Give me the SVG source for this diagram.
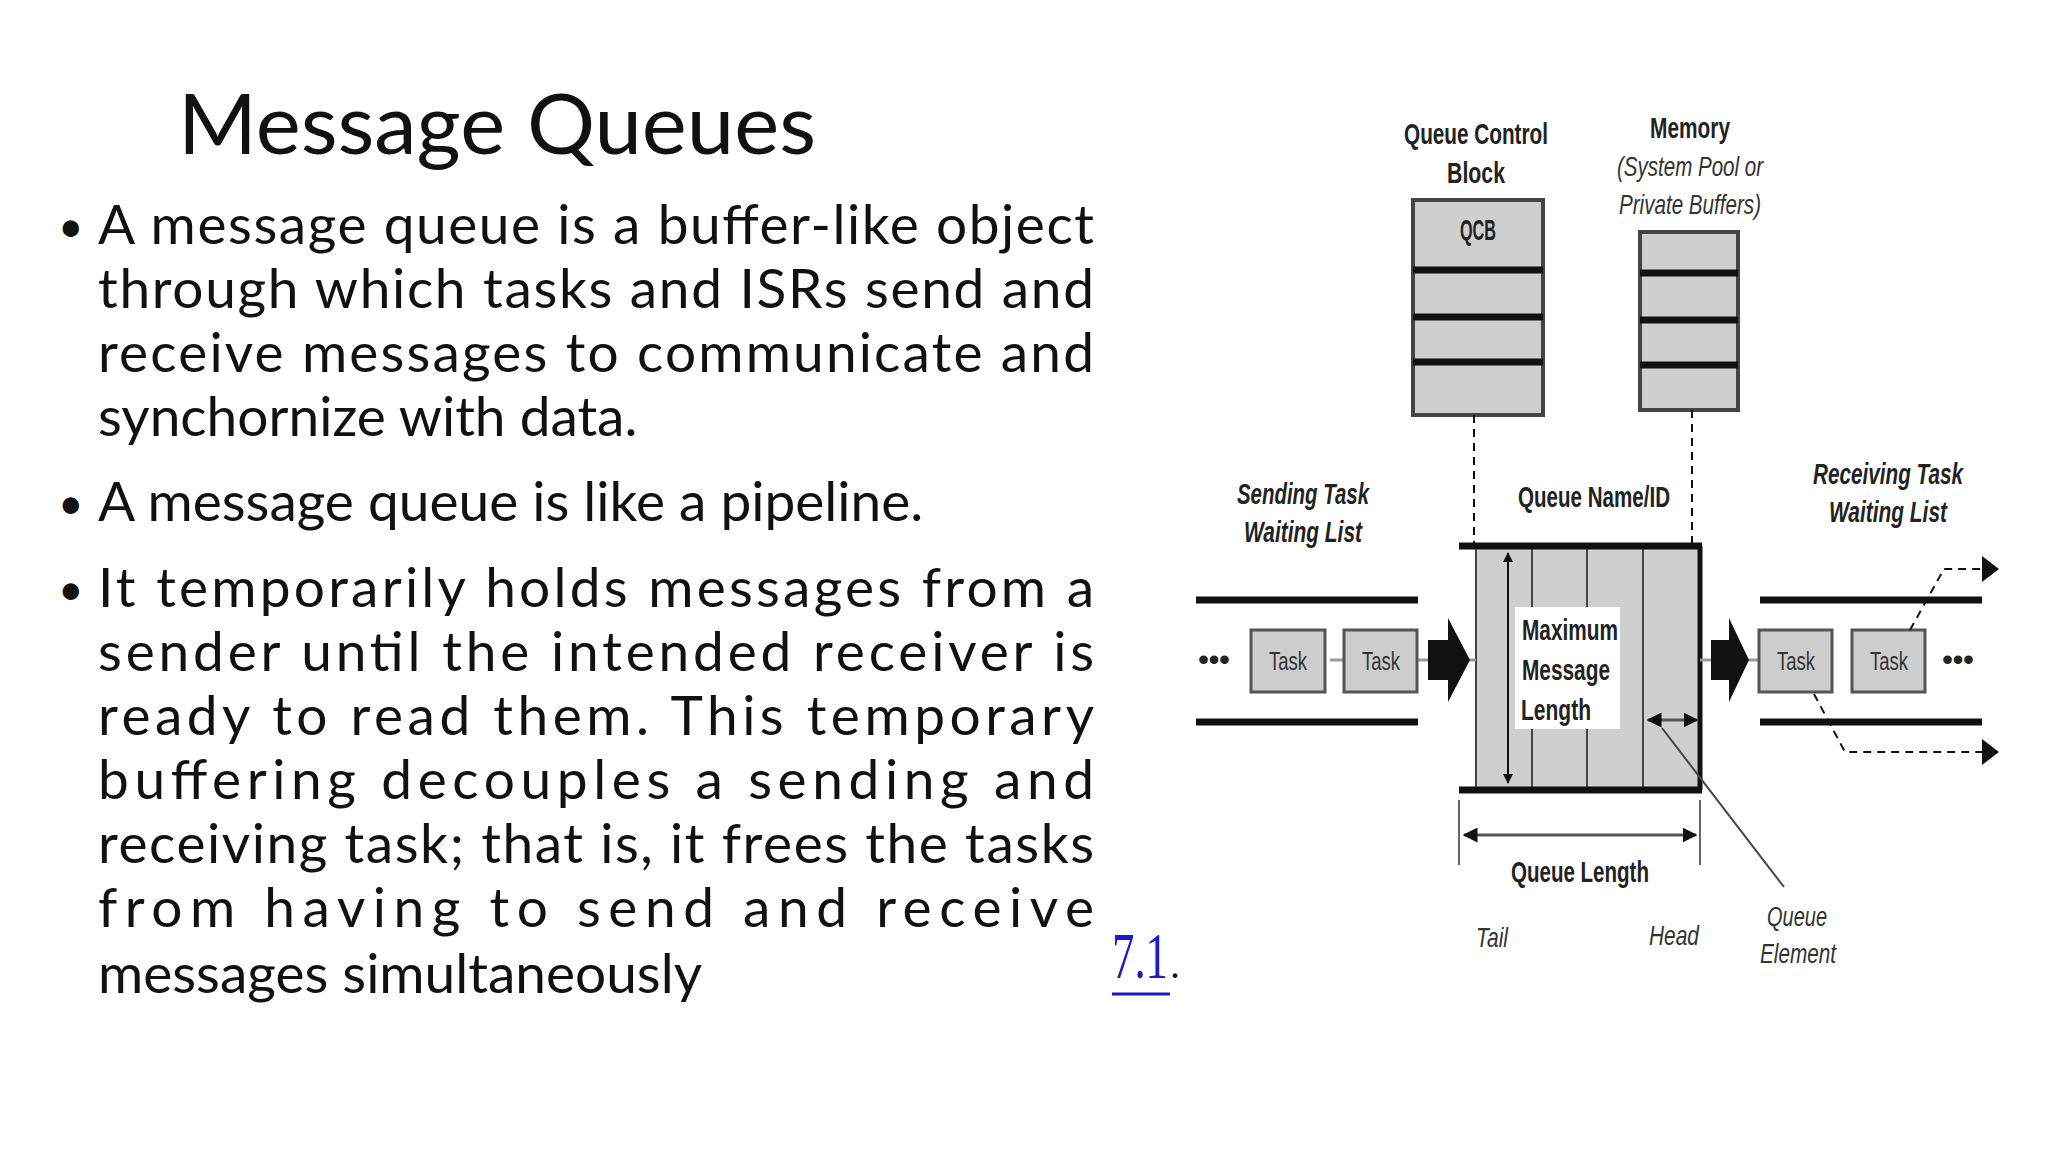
<svg xmlns="http://www.w3.org/2000/svg" width="2048" height="1152" viewBox="0 0 2048 1152">
<defs>
<style>
.b{font-family:Lato,"Open Sans",sans-serif;font-size:55px;fill:#111}
.d{font-family:"Liberation Sans",Arial,sans-serif;font-weight:bold;font-size:30px;fill:#222;text-anchor:middle}
.n{font-family:"Liberation Sans",Arial,sans-serif;font-style:italic;font-size:28px;fill:#333;text-anchor:middle}
.cell{fill:#cfcfcf;stroke:#444;stroke-width:4}
.task{fill:#cdcdcd;stroke:#555;stroke-width:3}
.tt{font-family:"Liberation Sans",Arial,sans-serif;font-size:26px;fill:#333;text-anchor:middle}
.thick{stroke:#111;stroke-width:7}
.dash{stroke:#111;stroke-width:2;stroke-dasharray:8 6;fill:none}
</style>
<marker id="ah" viewBox="0 0 10 10" refX="9" refY="5" markerWidth="5" markerHeight="5" orient="auto-start-reverse"><path d="M0,0L10,5L0,10z" fill="#111"/></marker>
</defs>
<rect width="2048" height="1152" fill="#fff"/>
<text x="178" y="154" font-family="Lato,'Open Sans',sans-serif" font-size="84" fill="#111" textLength="638" lengthAdjust="spacingAndGlyphs">Message Queues</text>
<g class="b">
<text x="58" y="242" font-size="44">•</text>
<text x="98" y="244" textLength="996" lengthAdjust="spacing">A message queue is a buffer-like object</text>
<text x="98" y="308" textLength="996" lengthAdjust="spacing">through which tasks and ISRs send and</text>
<text x="98" y="372" textLength="996" lengthAdjust="spacing">receive messages to communicate and</text>
<text x="98" y="436">synchornize with data.</text>
<text x="58" y="519" font-size="44">•</text>
<text x="98" y="521">A message queue is like a pipeline.</text>
<text x="58" y="605" font-size="44">•</text>
<text x="98" y="607" textLength="996" lengthAdjust="spacing">It temporarily holds messages from a</text>
<text x="98" y="671" textLength="996" lengthAdjust="spacing">sender until the intended receiver is</text>
<text x="98" y="735" textLength="996" lengthAdjust="spacing">ready to read them. This temporary</text>
<text x="98" y="799" textLength="996" lengthAdjust="spacing">buffering decouples a sending and</text>
<text x="98" y="863" textLength="996" lengthAdjust="spacing">receiving task; that is, it frees the tasks</text>
<text x="98" y="927" textLength="996" lengthAdjust="spacing">from having to send and receive</text>
<text x="98" y="993">messages simultaneously</text>
</g>
<g id="ref71">
<text x="1112" y="978" font-family="'Liberation Serif',serif" font-size="66" fill="#1a1acc" textLength="56" lengthAdjust="spacingAndGlyphs">7.1</text>
<text x="1170" y="978" font-family="'Liberation Serif',serif" font-size="40" fill="#111">.</text>
<line x1="1112" y1="994" x2="1170" y2="994" stroke="#1a1acc" stroke-width="3"/>
</g>
<g id="qcb">
<text class="d" x="1476" y="144" textLength="144" lengthAdjust="spacingAndGlyphs">Queue Control</text>
<text class="d" x="1476" y="183" textLength="58" lengthAdjust="spacingAndGlyphs">Block</text>
<rect class="cell" x="1413" y="200" width="130" height="215"/>
<line class="thick" x1="1413" y1="270" x2="1543" y2="270"/>
<line class="thick" x1="1413" y1="317" x2="1543" y2="317"/>
<line class="thick" x1="1413" y1="362" x2="1543" y2="362"/>
<text class="d" x="1478" y="240" font-size="22" textLength="36" lengthAdjust="spacingAndGlyphs">QCB</text>
</g>
<g id="memory">
<text class="d" x="1690" y="138" textLength="80" lengthAdjust="spacingAndGlyphs">Memory</text>
<text class="n" x="1690" y="176" textLength="146" lengthAdjust="spacingAndGlyphs">(System Pool or</text>
<text class="n" x="1690" y="214" textLength="142" lengthAdjust="spacingAndGlyphs">Private Buffers)</text>
<rect class="cell" x="1640" y="232" width="98" height="178"/>
<line class="thick" x1="1640" y1="273" x2="1738" y2="273"/>
<line class="thick" x1="1640" y1="320" x2="1738" y2="320"/>
<line class="thick" x1="1640" y1="365" x2="1738" y2="365"/>
</g>
<g id="labels">
<text class="d" font-style="italic" x="1303" y="504" textLength="132" lengthAdjust="spacingAndGlyphs">Sending Task</text>
<text class="d" font-style="italic" x="1303" y="542" textLength="118" lengthAdjust="spacingAndGlyphs">Waiting List</text>
<text class="d" x="1594" y="507" textLength="152" lengthAdjust="spacingAndGlyphs">Queue Name/ID</text>
<text class="d" font-style="italic" x="1888" y="484" textLength="150" lengthAdjust="spacingAndGlyphs">Receiving Task</text>
<text class="d" font-style="italic" x="1888" y="522" textLength="118" lengthAdjust="spacingAndGlyphs">Waiting List</text>
<text class="d" x="1580" y="882" textLength="138" lengthAdjust="spacingAndGlyphs">Queue Length</text>
<text class="n" x="1492" y="947" textLength="32" lengthAdjust="spacingAndGlyphs">Tail</text>
<text class="n" x="1674" y="945" textLength="50" lengthAdjust="spacingAndGlyphs">Head</text>
<text class="n" x="1797" y="926" textLength="60" lengthAdjust="spacingAndGlyphs">Queue</text>
<text class="n" x="1798" y="963" textLength="76" lengthAdjust="spacingAndGlyphs">Element</text>
</g>
<g id="queue">
<rect x="1476" y="546" width="222" height="244" fill="#cfcfcf"/>
<line x1="1476" y1="546" x2="1476" y2="790" stroke="#444" stroke-width="2"/>
<line x1="1532" y1="546" x2="1532" y2="790" stroke="#444" stroke-width="2"/>
<line x1="1587" y1="546" x2="1587" y2="790" stroke="#444" stroke-width="2"/>
<line x1="1643" y1="546" x2="1643" y2="790" stroke="#444" stroke-width="2"/>
<line x1="1700" y1="546" x2="1700" y2="790" stroke="#111" stroke-width="5"/>
<line class="thick" x1="1459" y1="546" x2="1702" y2="546"/>
<line class="thick" x1="1459" y1="790" x2="1702" y2="790"/>
<rect x="1515" y="607" width="105" height="122" fill="#fff"/>
<text class="d" x="1570" y="640" textLength="96" lengthAdjust="spacingAndGlyphs">Maximum</text>
<text class="d" x="1566" y="680" textLength="88" lengthAdjust="spacingAndGlyphs">Message</text>
<text class="d" x="1556" y="720" textLength="70" lengthAdjust="spacingAndGlyphs">Length</text>
<line x1="1508" y1="553" x2="1508" y2="783" stroke="#111" stroke-width="2" marker-start="url(#ah)" marker-end="url(#ah)"/>
<line x1="1648" y1="720" x2="1697" y2="720" stroke="#555" stroke-width="3" marker-start="url(#ah)" marker-end="url(#ah)"/>
</g>
<g id="sending">
<line class="thick" x1="1196" y1="600" x2="1418" y2="600"/>
<line class="thick" x1="1196" y1="722" x2="1418" y2="722"/>
<line x1="1330" y1="660" x2="1476" y2="660" stroke="#999" stroke-width="3"/>
<rect class="task" x="1251" y="630" width="74" height="62"/>
<rect class="task" x="1344" y="630" width="73" height="62"/>
<text class="tt" x="1288" y="670" textLength="38" lengthAdjust="spacingAndGlyphs">Task</text>
<text class="tt" x="1381" y="670" textLength="38" lengthAdjust="spacingAndGlyphs">Task</text>
<text class="d" x="1214" y="670" font-size="30">•••</text>
<path d="M1428,640h20v-22l22,42l-22,42v-22h-20z" fill="#111"/>
</g>
<g id="receiving">
<line class="thick" x1="1760" y1="600" x2="1982" y2="600"/>
<line class="thick" x1="1760" y1="722" x2="1982" y2="722"/>
<line x1="1700" y1="660" x2="1770" y2="660" stroke="#999" stroke-width="3"/>
<rect class="task" x="1759" y="630" width="73" height="62"/>
<rect class="task" x="1852" y="630" width="73" height="62"/>
<text class="tt" x="1796" y="670" textLength="38" lengthAdjust="spacingAndGlyphs">Task</text>
<text class="tt" x="1889" y="670" textLength="38" lengthAdjust="spacingAndGlyphs">Task</text>
<text class="d" x="1958" y="670" font-size="30">•••</text>
<path d="M1711,640h18v-22l20,42l-20,42v-22h-18z" fill="#111"/>
</g>
<g id="connectors">
<line class="dash" x1="1474" y1="415" x2="1474" y2="546"/>
<line class="dash" x1="1692" y1="410" x2="1692" y2="546"/>
<line x1="1459" y1="800" x2="1459" y2="865" stroke="#333" stroke-width="1.5"/>
<line x1="1700" y1="800" x2="1700" y2="865" stroke="#333" stroke-width="1.5"/>
<line x1="1464" y1="835" x2="1696" y2="835" stroke="#555" stroke-width="3" marker-start="url(#ah)" marker-end="url(#ah)"/>
<line x1="1662" y1="728" x2="1784" y2="887" stroke="#444" stroke-width="2"/>
<path class="dash" d="M1910,630L1944,569H1984" stroke-width="3"/>
<path d="M1982,556l17,13l-17,13z" fill="#111"/>
<path class="dash" d="M1814,694L1845,752H1984" stroke-width="3"/>
<path d="M1982,739l17,13l-17,13z" fill="#111"/>
</g>
</svg>
